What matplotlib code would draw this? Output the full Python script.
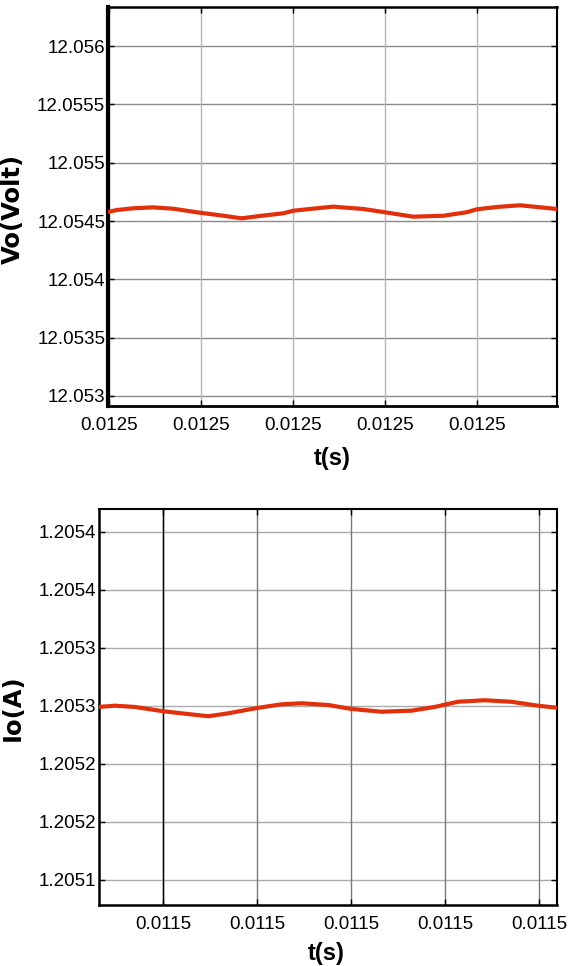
import matplotlib
matplotlib.use("Agg")
import matplotlib.pyplot as plt

# ---------------- data ----------------
# Top panel: output voltage (x in units of tick spacing)
t_vo = [-0.01, 0.084, 0.264, 0.482, 0.699, 0.989, 1.207, 1.442, 1.641, 1.895,
        2.003, 2.258, 2.438, 2.764, 2.982, 3.308, 3.634, 3.888, 3.997, 4.214,
        4.467, 4.866]
vo = [12.054577, 12.054594, 12.054609, 12.054617, 12.054605, 12.054571,
      12.054549, 12.054523, 12.054543, 12.054566, 12.054588, 12.054609,
      12.054623, 12.054603, 12.054577, 12.054537, 12.054545, 12.054575,
      12.054600, 12.054620, 12.054635, 12.054603]
vo_xticks = [0, 1, 2, 3, 4]
vo_xticklabels = ["0.0125", "0.0125", "0.0125", "0.0125", "0.0125"]
vo_yticks = [12.053, 12.0535, 12.054, 12.0545, 12.055, 12.0555, 12.056]
vo_yticklabels = ["12.053", "12.0535", "12.054", "12.0545", "12.055", "12.0555", "12.056"]

# Bottom panel: output current
t_io = [-0.691, -0.514, -0.301, -0.017, 0.231, 0.479, 0.691, 0.904, 1.047,
        1.259, 1.472, 1.755, 2.004, 2.323, 2.643, 2.890, 3.138, 3.422, 3.706,
        3.989, 4.185]
io = [1.2052489, 1.2052500, 1.2052489, 1.2052454, 1.2052431, 1.2052409,
      1.2052434, 1.2052466, 1.2052486, 1.2052512, 1.2052521, 1.2052506,
      1.2052472, 1.2052448, 1.2052457, 1.2052489, 1.2052534, 1.2052547,
      1.2052534, 1.2052500, 1.2052483]
io_xticks = [0, 1, 2, 3, 4]
io_xticklabels = ["0.0115", "0.0115", "0.0115", "0.0115", "0.0115"]
io_yticks = [1.20510, 1.20515, 1.20520, 1.20525, 1.20530, 1.20535, 1.20540]
io_yticklabels = ["1.2051", "1.2052", "1.2052", "1.2053", "1.2053", "1.2054", "1.2054"]

# ---------------- style ----------------
LINE_C = "#E2300C"
TICK_FONT = dict(family=["Liberation Sans", "DejaVu Sans"], size=13.5)
XLAB_FONT = dict(family=["Liberation Sans", "DejaVu Sans"], size=17, weight="bold")
YLAB_FONT = dict(family=["DejaVu Sans"], size=17.5, weight="bold")

fig = plt.figure(figsize=(5.69, 9.66), dpi=100)

def style(ax, hcol, vcol, lw_left, lw_bottom, lw_top, lw_right):
    ax.grid(False)
    for y in ax.get_yticks():
        ax.axhline(y, color=hcol, lw=1.0, zorder=1)
    for x in ax.get_xticks():
        ax.axvline(x, color=vcol, lw=1.0, zorder=1)
    ax.tick_params(direction="in", top=True, right=True, length=4, width=1,
                   colors="black")
    ax.tick_params(axis="x", pad=8)
    ax.tick_params(axis="y", pad=2)
    ax.spines["left"].set_linewidth(lw_left)
    ax.spines["bottom"].set_linewidth(lw_bottom)
    ax.spines["top"].set_linewidth(lw_top)
    ax.spines["right"].set_linewidth(lw_right)
    for lab in ax.get_xticklabels() + ax.get_yticklabels():
        lab.set_fontfamily(TICK_FONT["family"])
        lab.set_fontsize(TICK_FONT["size"])

# Top axes
ax1 = fig.add_axes([108 / 569, 1 - 406 / 966, (556.5 - 108) / 569, (406 - 7) / 966])
ax1.plot(t_vo, vo, color=LINE_C, lw=3.0, zorder=3)
ax1.set_xlim(-0.01, 4.864)
ax1.set_ylim(12.0529142, 12.0563344)
ax1.set_xticks(vo_xticks)
ax1.set_xticklabels(vo_xticklabels)
ax1.set_yticks(vo_yticks)
ax1.set_yticklabels(vo_yticklabels)
style(ax1, "#8a8a8a", "#b5b5b5", 3.0, 2.0, 1.8, 1.5)
ax1.set_xlabel("t(s)", **XLAB_FONT)
ax1.set_ylabel("Vo(Volt)", **YLAB_FONT)
ax1.xaxis.set_label_coords(0.5, -0.103)
ax1.yaxis.set_label_coords(-0.185, 0.495)

# Bottom axes
ax2 = fig.add_axes([98.7 / 569, 1 - 904.7 / 966, (556.7 - 98.7) / 569, (904.7 - 509) / 966])
ax2.plot(t_io, io, color=LINE_C, lw=3.0, zorder=3)
ax2.set_xlim(-0.687, 4.19)
ax2.set_ylim(1.2050784, 1.2054196)
ax2.set_xticks(io_xticks)
ax2.set_xticklabels(io_xticklabels)
ax2.set_yticks(io_yticks)
ax2.set_yticklabels(io_yticklabels)
style(ax2, "#ababab", "#7a7a7a", 1.8, 1.8, 1.5, 1.5)
ax2.axvline(io_xticks[0], color="black", lw=1.0, zorder=2)
ax2.set_xlabel("t(s)", **XLAB_FONT)
ax2.set_ylabel("Io(A)", **YLAB_FONT)
ax2.xaxis.set_label_coords(0.497, -0.094)
ax2.yaxis.set_label_coords(-0.161, 0.497)

fig.savefig("out.png", dpi=100)
